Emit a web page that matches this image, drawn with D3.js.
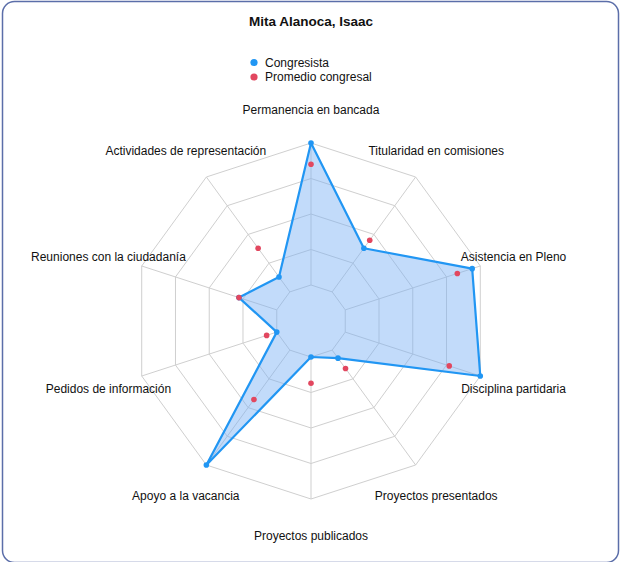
<!DOCTYPE html>
<html>
<head>
<meta charset="utf-8">
<script src="https://cdn.jsdelivr.net/npm/d3@7"></script>
<style>
  html, body { margin: 0; padding: 0; background: #fff; }
  svg { display: block; font-family: "Liberation Sans", Arial, sans-serif; }
</style>
</head>
<body>
<svg id="chart" width="621" height="562"></svg>
<script>
const title = "Mita Alanoca, Isaac";
const axesLabels = [
  "Permanencia en bancada",
  "Titularidad en comisiones",
  "Asistencia en Pleno",
  "Disciplina partidaria",
  "Proyectos presentados",
  "Proyectos publicados",
  "Apoyo a la vacancia",
  "Pedidos de información",
  "Reuniones con la ciudadanía",
  "Actividades de representación"
];
const seriesNames = ["Congresista", "Promedio congresal"];
const congresista = [100, 38, 94, 100, 7, 0, 100, 0, 28, 13];
const promedio = [85, 45, 83, 77, 16, 18.5, 43, 7.5, 28, 38];
const ringTicks = [0, 25, 50, 75, 100];

const svg = d3.select("#chart");
const W = 621, H = 562;
const cx = 311, cy = 321;
const innerR = 36, outerR = 178, labelR = 213;

// card border
svg.append("rect")
  .attr("x", 2.5).attr("y", 1.5)
  .attr("width", W - 5).attr("height", H - 1)
  .attr("rx", 12).attr("ry", 12)
  .attr("fill", "#fff")
  .attr("stroke", "#5b6ea9").attr("stroke-width", 1.5);

// title
svg.append("text")
  .attr("x", cx).attr("y", 26)
  .attr("text-anchor", "middle")
  .attr("font-size", 13.5).attr("font-weight", "bold")
  .attr("fill", "#111")
  .text(title);

// legend
const colors = ["#2196f3", "#e2475f"];
const legend = svg.append("g");
seriesNames.forEach((name, i) => {
  const y = 62.5 + i * 14.5;
  legend.append("circle").attr("cx", 254).attr("cy", y).attr("r", 3.6).attr("fill", colors[i]);
  legend.append("text").attr("x", 265).attr("y", y).attr("dy", "0.35em")
    .attr("font-size", 12).attr("fill", "#111").text(name);
});

const n = axesLabels.length;
const angle = d3.scaleLinear().domain([0, n]).range([0, 2 * Math.PI]);
const r = d3.scaleLinear().domain([0, 100]).range([innerR, outerR]);
const pt = (i, rad) => [cx + rad * Math.sin(angle(i)), cy - rad * Math.cos(angle(i))];

const grid = svg.append("g").attr("fill", "none").attr("stroke", "#cfcfcf").attr("stroke-width", 1);
// rings
ringTicks.forEach(t => {
  const pts = d3.range(n).map(i => pt(i, r(t)));
  grid.append("path").attr("d", d3.line().curve(d3.curveLinearClosed)(pts));
});
// spokes
d3.range(n).forEach(i => {
  const a = pt(i, r(0)), b = pt(i, r(100));
  grid.append("line").attr("x1", a[0]).attr("y1", a[1]).attr("x2", b[0]).attr("y2", b[1]);
});

// axis labels
axesLabels.forEach((lab, i) => {
  const p = pt(i, labelR);
  svg.append("text")
    .attr("x", p[0]).attr("y", p[1] + 2).attr("dy", "0.35em")
    .attr("text-anchor", "middle")
    .attr("font-size", 12).attr("fill", "#111")
    .text(lab);
});

// congresista area
const line = d3.lineRadial()
  .angle((d, i) => angle(i))
  .radius(d => r(d))
  .curve(d3.curveLinearClosed);
const g = svg.append("g").attr("transform", `translate(${cx},${cy})`);
g.append("path")
  .attr("d", line(congresista))
  .attr("fill", "rgb(120,175,245)").attr("fill-opacity", 0.45)
  .attr("stroke", colors[0]).attr("stroke-width", 2.2).attr("stroke-linejoin", "round");
congresista.forEach((v, i) => {
  const p = pt(i, r(v));
  svg.append("circle").attr("cx", p[0]).attr("cy", p[1]).attr("r", 2.8).attr("fill", colors[0]);
});

// promedio points
promedio.forEach((v, i) => {
  const p = pt(i, r(v));
  svg.append("circle").attr("cx", p[0]).attr("cy", p[1]).attr("r", 2.8).attr("fill", colors[1]);
});
</script>
</body>
</html>
